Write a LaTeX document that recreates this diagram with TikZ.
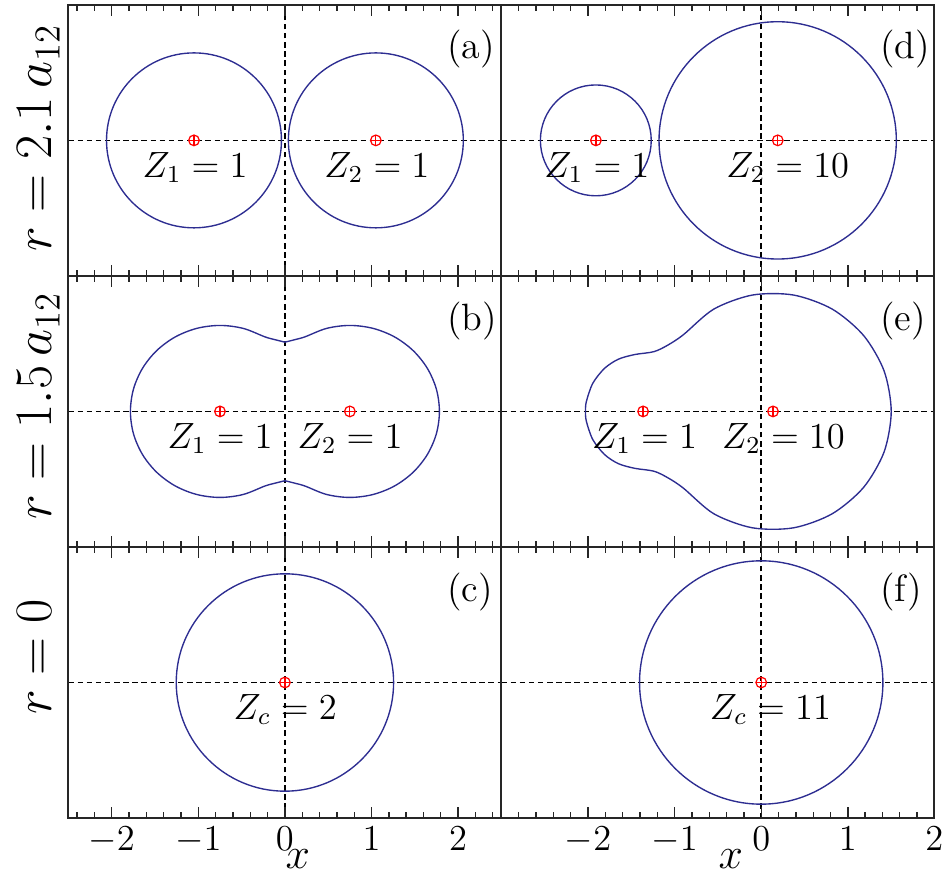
\documentclass[tikz,border=0pt]{standalone}
\usetikzlibrary{positioning}
\definecolor{isoblue}{RGB}{45,45,145}
\tikzset{
  frameln/.style={line width=0.65pt,black!85},
  tickln/.style={line width=0.45pt,black!85},
  axisdash/.style={line width=0.5pt,dash pattern=on 1.8pt off 1.2pt},
  isoline/.style={line width=0.45pt,isoblue},
  nucleus/.style={circle,draw=red,line width=0.4pt,inner sep=0pt,minimum size=3.5pt,
    path picture={\draw[red,line width=0.4pt] (path picture bounding box.north)--(path picture bounding box.south)
      (path picture bounding box.west)--(path picture bounding box.east);}},
  zlabel/.style={anchor=north west,inner sep=0pt,font=\fontsize{12}{14}\selectfont},
  panlabel/.style={anchor=base west,inner sep=0pt,font=\fontsize{12.5}{14}\selectfont},
  ticklabel/.style={anchor=north,inner sep=0pt,font=\fontsize{12}{14}\selectfont},
  axlabel/.style={inner sep=0pt,font=\fontsize{17.28}{20}\selectfont}
}
% frame, ticks and dashed axes of one panel: xmin, xmax, minor ticks, major ticks
\newcommand{\panelbox}[4]{%
  \draw[axisdash] (#1,0)--(#2,0) (0,-1.565)--(0,1.565);
  \foreach \t in {#3} {\draw[tickln] (\t,-1.565)--++(0,0.07) (\t,1.565)--++(0,-0.07);}
  \foreach \t in {#4} {\draw[tickln] (\t,-1.565)--++(0,0.127) (\t,1.565)--++(0,-0.127);}
  \draw[frameln] (#1,-1.565) rectangle (#2,1.565);
}

\begin{document}
\begin{tikzpicture}
  \path[use as bounding box] (0,0) rectangle (10.912,10.081);

  % row labels
  \node[axlabel,rotate=90,anchor=base] (rtop) at (0.597,8.49) {$r=2.1\,a_{12}$};
  \node[axlabel,rotate=90,anchor=base] (rmid) at (0.597,5.39) {$r=1.5\,a_{12}$};
  \node[axlabel,rotate=90,anchor=base] (rbot) at (0.597,2.494) {$r=0$};

  % (a)
  \begin{scope}[shift={(3.29,8.46)}]
    \panelbox{-2.5}{2.5}{-2.4,-2.2,...,2.4}{-2,...,2}
    \draw[isoline] (-1.05,0) circle (1.01) (1.05,0) circle (1.01);
    \node[nucleus] (a1) at (-1.05,0) {};
    \node[nucleus] (a2) at (1.05,0) {};
    \node[zlabel] (za1) at (-1.65,-0.13) {$Z_1=1$};
    \node[zlabel] (za2) at (0.45,-0.13) {$Z_2=1$};
    \node[panlabel] (pa) at (1.87,0.94) {(a)};
  \end{scope}

  % (b)
  \begin{scope}[shift={(3.29,5.33)}]
    \panelbox{-2.5}{2.5}{-2.4,-2.2,...,2.4}{-2,...,2}
    \foreach \s in {1,-1}
      \draw[isoline,xscale=\s] plot[smooth,tension=0.55] coordinates {(0,0.80) (-0.12,0.83) (-0.233,0.862)
        (-0.482,0.959) (-0.75,0.993) (-1.018,0.959) (-1.267,0.86) (-1.481,0.702) (-1.645,0.497)
        (-1.749,0.257) (-1.784,0) (-1.749,-0.257) (-1.645,-0.497) (-1.481,-0.702) (-1.267,-0.86)
        (-1.018,-0.959) (-0.75,-0.993) (-0.482,-0.959) (-0.233,-0.862) (-0.12,-0.83) (0,-0.80)};
    \node[nucleus] (b1) at (-0.75,0) {};
    \node[nucleus] (b2) at (0.75,0) {};
    \node[zlabel] (zb1) at (-1.36,-0.13) {$Z_1=1$};
    \node[zlabel] (zb2) at (0.14,-0.13) {$Z_2=1$};
    \node[panlabel] (pb) at (1.87,0.94) {(b)};
  \end{scope}

  % (c)
  \begin{scope}[shift={(3.29,2.20)}]
    \panelbox{-2.5}{2.5}{-2.4,-2.2,...,2.4}{-2,...,2}
    \draw[isoline] (0,0) circle (1.255);
    \node[nucleus] (c0) at (0,0) {};
    \node[zlabel] (zc) at (-0.60,-0.13) {$Z_c=2$};
    \node[panlabel] (pc) at (1.87,0.94) {(c)};
    \foreach \t in {-2,...,2}
      \node[ticklabel] (lx\t) at (\t,-1.665) {$\t$};
    \node[inner sep=0pt,anchor=base,font=\fontsize{14.4}{16}\selectfont] (xl) at (0.15,-2.15) {$x$};
  \end{scope}

  % (d)
  \begin{scope}[shift={(8.79,8.46)}]
    \panelbox{-3}{2}{-2.8,-2.6,...,1.8}{-2,...,1}
    \draw[isoline] (-1.91,0) circle (0.64) (0.19,0) circle (1.37);
    \node[nucleus] (d1) at (-1.909,0) {};
    \node[nucleus] (d2) at (0.191,0) {};
    \node[zlabel] (zd1) at (-2.51,-0.13) {$Z_1=1$};
    \node[zlabel] (zd2) at (-0.41,-0.13) {$Z_2=10$};
    \node[panlabel] (pd) at (1.37,0.94) {(d)};
  \end{scope}

  % (e)
  \begin{scope}[shift={(8.79,5.33)}]
    \panelbox{-3}{2}{-2.8,-2.6,...,1.8}{-2,...,1}
    \draw[isoline] plot[smooth cycle,tension=0.5] coordinates {(1.501,0) (1.419,0.467) (1.182,0.877)
      (0.819,1.182) (0.373,1.344) (-0.101,1.344) (-0.547,1.182) (-0.900,0.885) (-1.08,0.765)
      (-1.24,0.690) (-1.46,0.657) (-1.65,0.603) (-1.81,0.497) (-1.945,0.325) (-2.019,0.115)
      (-2.029,0) (-2.019,-0.115) (-1.945,-0.325) (-1.81,-0.497) (-1.65,-0.603) (-1.46,-0.657)
      (-1.24,-0.690) (-1.08,-0.765) (-0.900,-0.885) (-0.547,-1.182) (-0.101,-1.344) (0.373,-1.344)
      (0.819,-1.182) (1.182,-0.877) (1.419,-0.467)};
    \node[nucleus] (e1) at (-1.364,0) {};
    \node[nucleus] (e2) at (0.136,0) {};
    \node[zlabel] (ze1) at (-1.96,-0.13) {$Z_1=1$};
    \node[zlabel] (ze2) at (-0.46,-0.13) {$Z_2=10$};
    \node[panlabel] (pe) at (1.37,0.94) {(e)};
  \end{scope}

  % (f)
  \begin{scope}[shift={(8.79,2.20)}]
    \panelbox{-3}{2}{-2.8,-2.6,...,1.8}{-2,...,1}
    \draw[isoline] (0,0) circle (1.405);
    \node[nucleus] (f0) at (0,0) {};
    \node[zlabel] (zf) at (-0.60,-0.13) {$Z_c=11$};
    \node[panlabel] (pf) at (1.37,0.94) {(f)};
    \foreach \t in {-2,...,2}
      \node[ticklabel] (rx\t) at (\t,-1.665) {$\t$};
    \node[inner sep=0pt,anchor=base,font=\fontsize{14.4}{16}\selectfont] (xr) at (-0.35,-2.15) {$x$};
  \end{scope}
\end{tikzpicture}
\end{document}
